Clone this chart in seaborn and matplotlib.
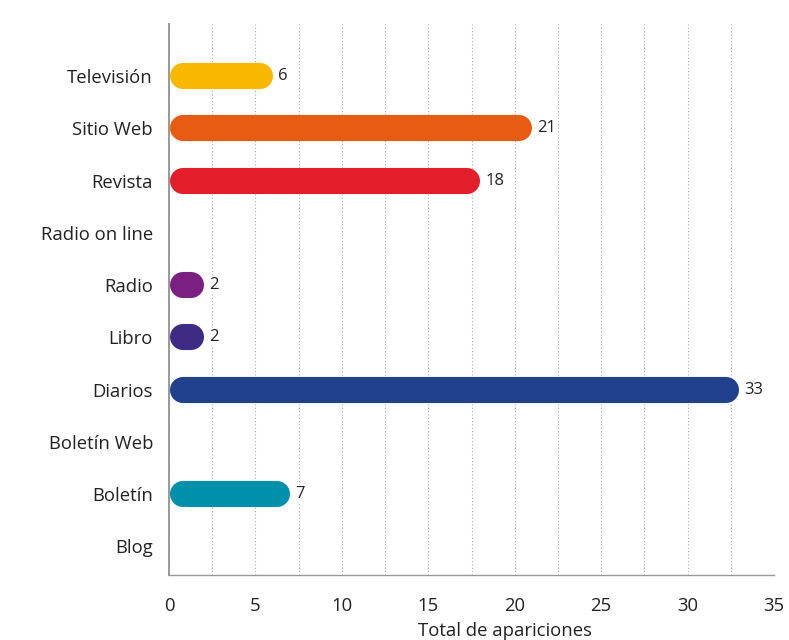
import matplotlib
matplotlib.use("Agg")
import matplotlib.pyplot as plt
from matplotlib.ticker import MultipleLocator
import seaborn as sns
import pandas as pd

### data

medios = ["Televisión", "Sitio Web", "Revista", "Radio on line", "Radio",
          "Libro", "Diarios", "Boletín Web", "Boletín", "Blog"]
apariciones = [6, 21, 18, 0, 2, 2, 33, 0, 7, 0]
colores = ["#F9B800", "#E85B13", "#E21E2B", "#FFFFFF", "#7B1F82",
           "#3E2C84", "#21418F", "#FFFFFF", "#0090AA", "#FFFFFF"]
x_ticks = [0, 5, 10, 15, 20, 25, 30, 35]

df = pd.DataFrame({"Medio": medios, "Total": apariciones})

sns.set_style("white")
plt.rcParams["font.family"] = ["Open Sans", "DejaVu Sans"]

fig = plt.figure(figsize=(7.89, 6.4), dpi=100)
ax = fig.add_axes([0.2142, 0.1016, 0.981 - 0.2142, 0.9625 - 0.1016])

sns.barplot(data=df, x="Total", y="Medio", hue="Medio", palette=colores,
            saturation=1, legend=False, width=0.5, ax=ax, zorder=3)

ax.set_xlim(0, 35)
ax.set_ylim(9.55, -1.0)

### swap the square bars for rounded pills (thick lines with round caps)
bbox = ax.get_window_extent()
px_x = bbox.width / 35.0
px_y = bbox.height / 10.55
for patch in list(ax.patches):
    x0, y0 = patch.get_x(), patch.get_y()
    w, h = patch.get_width(), patch.get_height()
    col = patch.get_facecolor()
    patch.remove()
    if w <= 0:
        continue
    h_px = h * px_y
    r = (h_px / 2.0) / px_x
    yc = y0 + h / 2
    ax.plot([x0 + r + 0.05, x0 + w - r], [yc, yc], color=col,
            linewidth=h_px * 72.0 / fig.dpi, solid_capstyle="round",
            zorder=3)
    ax.text(x0 + w + 0.3, yc, str(int(w)), va="center", ha="left",
            fontsize=12, color="#222222", zorder=4,
            bbox=dict(facecolor="white", edgecolor="none", pad=1))

ax.set_xticks(x_ticks)
ax.xaxis.set_minor_locator(MultipleLocator(2.5))
ax.grid(axis="x", which="both", linestyle=(0, (1, 2)), color="#aaaaaa",
        linewidth=0.8, zorder=0)
ax.set_axisbelow(True)

ax.tick_params(axis="both", which="both", length=0, labelsize=13.3,
               labelcolor="#222222")
ax.tick_params(axis="x", pad=16)
ax.tick_params(axis="y", pad=11.5)

ax.set_ylabel("")
ax.set_xlabel("Total de apariciones", fontsize=13.3, color="#222222")
ax.xaxis.set_label_coords(0.555, -0.086)

for s in ["top", "right"]:
    ax.spines[s].set_visible(False)
ax.spines["left"].set_color("#999999")
ax.spines["left"].set_linewidth(1.4)
ax.spines["bottom"].set_color("#999999")
ax.spines["bottom"].set_linewidth(1.0)

fig.savefig("out.png", dpi=100)
